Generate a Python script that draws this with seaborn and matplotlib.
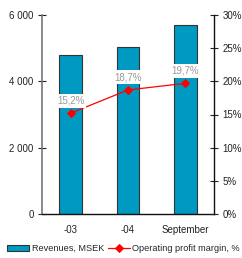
import matplotlib
matplotlib.use("Agg")
import matplotlib.pyplot as plt
import seaborn as sns
import pandas as pd
from matplotlib.ticker import FuncFormatter, FixedLocator

categories = ["-03", "-04", "September"]
revenues = [4800, 5050, 5700]
margin = [15.2, 18.7, 19.7]
margin_labels = ["15,2%", "18,7%", "19,7%"]

sns.set_theme(style="white")
plt.rcParams['font.family'] = ['Liberation Sans', 'DejaVu Sans']
plt.rcParams['font.size'] = 7

df = pd.DataFrame({"cat": categories, "rev": revenues, "margin": margin})

fig = plt.figure(figsize=(2.42, 2.58), dpi=100)
ax = fig.add_axes([42/242, 1-214/258, (214-42)/242, (214-15)/258])
sns.barplot(data=df, x="cat", y="rev", ax=ax, color="#0099C2", width=0.4,
            edgecolor="#333333", linewidth=0.8, saturation=1,
            label="Revenues, MSEK", legend=False)
ax.set_ylim(0, 6000)
ax.set_xlim(-0.5, 2.5)
ax.set_yticks([0, 2000, 4000, 6000])
ax.yaxis.set_major_formatter(FuncFormatter(lambda v, p: f"{int(v):,}".replace(",", " ")))
ax.set_xlabel("")
ax.set_ylabel("")
ax.xaxis.set_minor_locator(FixedLocator([0.5, 1.5]))
ax.tick_params(axis="x", which="major", length=0, pad=8, labelsize=7, colors="#222222")
ax.tick_params(axis="x", which="minor", length=6, direction="inout", width=0.8, color="#222222")
ax.tick_params(axis="y", length=6, direction="inout", width=0.8, labelsize=7, colors="#222222", pad=3)
for s in ["top", "right"]:
    ax.spines[s].set_visible(False)
ax.spines["left"].set_color("#777777")
ax.spines["left"].set_linewidth(1.2)
ax.spines["bottom"].set_color("#111111")
ax.spines["bottom"].set_linewidth(1.0)

ax2 = ax.twinx()
sns.lineplot(x=[0, 1, 2], y=margin, ax=ax2, color="#FF0000", linewidth=0.9,
             marker="D", markersize=4, markeredgecolor="#FF0000",
             label="Operating profit margin, %", legend=False)
ax2.set_ylim(0, 30)
ax2.set_yticks([0, 5, 10, 15, 20, 25, 30])
ax2.yaxis.set_major_formatter(FuncFormatter(lambda v, p: f"{int(v)}%"))
ax2.tick_params(axis="y", length=6, direction="inout", width=0.8, labelsize=7, colors="#222222", pad=3)
for s in ["top", "left", "bottom"]:
    ax2.spines[s].set_visible(False)
ax2.spines["right"].set_color("#111111")
ax2.spines["right"].set_linewidth(1.0)

for i, (m, t) in enumerate(zip(margin, margin_labels)):
    ax2.text(i, m + 1.9, t, ha="center", va="center", fontsize=7, color="#999999",
             bbox=dict(facecolor="white", edgecolor="none", pad=1.5))

if ax.get_legend() is not None:
    ax.get_legend().remove()
h1, l1 = ax.get_legend_handles_labels()
h2, l2 = ax2.get_legend_handles_labels()
fig.legend(h1[:1] + h2[:1], l1[:1] + l2[:1], loc="lower center", bbox_to_anchor=(0.51, 0.0), ncol=2,
           frameon=False, fontsize=6.6, handlelength=2.4, handleheight=0.6, handletextpad=0.25,
           columnspacing=0.4, borderaxespad=0.15)

fig.savefig("out.png", dpi=100)
